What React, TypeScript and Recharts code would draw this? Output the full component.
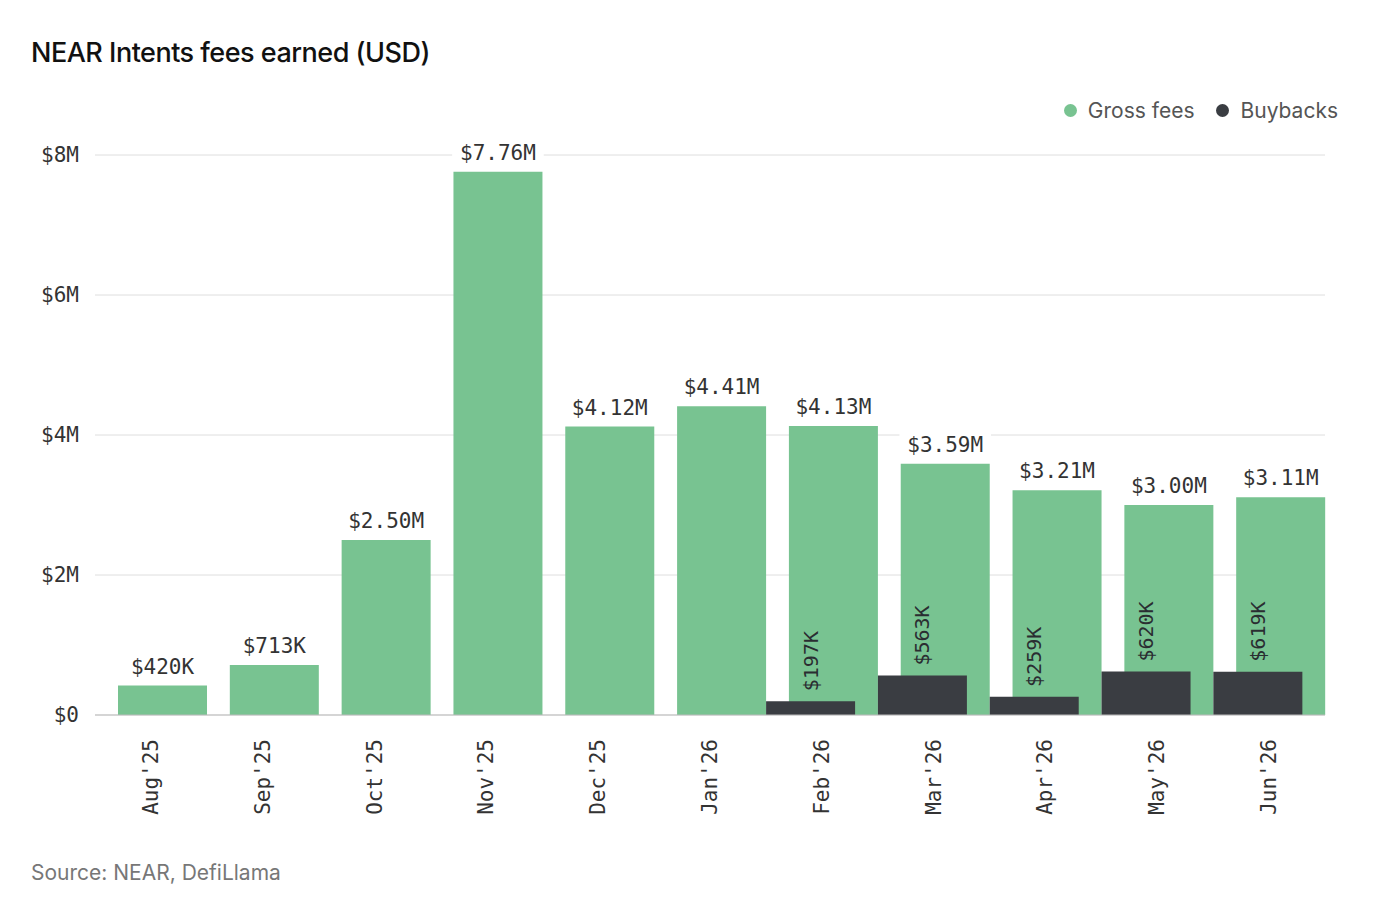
import { Bar, BarChart, CartesianGrid, LabelList, XAxis, YAxis } from "recharts";

const months = ["Aug'25", "Sep'25", "Oct'25", "Nov'25", "Dec'25", "Jan'26", "Feb'26", "Mar'26", "Apr'26", "May'26", "Jun'26"];
const grossFees = [420000, 713000, 2500000, 7760000, 4120000, 4410000, 4130000, 3590000, 3210000, 3000000, 3110000];
const buybacks = [0, 0, 0, 0, 0, 0, 197000, 563000, 259000, 620000, 619000];
const yTicks = [0, 2000000, 4000000, 6000000, 8000000];

const GREEN = "#78c391";
const DARK = "#3a3d42";
const MONO = "'DejaVu Sans Mono', 'Liberation Mono', monospace";
const SANS = "Inter, 'Noto Sans', sans-serif";

const data = months.map((m, i) => ({ month: m, gross: grossFees[i], buyback: buybacks[i] }));

function fmt(v: number) {
  if (v >= 1000000) return `$${(v / 1000000).toFixed(2)}M`;
  return `$${Math.round(v / 1000)}K`;
}

function GrossLabel(props: any) {
  const { x, y, width, value } = props;
  const cx = x + width / 2;
  const text = fmt(value);
  const w = text.length * 12.6 + 16;
  return (
    <g>
      <rect x={cx - w / 2} y={y - 34} width={w} height={26} fill="#fff" />
      <text x={cx} y={y - 12} textAnchor="middle" fontFamily={MONO} fontSize={21} fill="#333">
        {text}
      </text>
    </g>
  );
}

function BuybackLabel(props: any) {
  const { x, y, width, value } = props;
  if (!value) return null;
  const cx = x + width / 2 + 7;
  const ty = y - 10;
  return (
    <text x={cx} y={ty} transform={`rotate(-90 ${cx} ${ty})`} textAnchor="start" fontFamily={MONO} fontSize={20} fill="#2a2d31">
      {fmt(value)}
    </text>
  );
}

function MonthTick(props: any) {
  const { x, y, payload } = props;
  const tx = x + 7;
  const ty = y + 16;
  return (
    <text x={tx} y={ty} transform={`rotate(-90 ${tx} ${ty})`} textAnchor="end" fontFamily={MONO} fontSize={21} fill="#333">
      {payload.value}
    </text>
  );
}

export default function App() {
  return (
    <div style={{ position: "relative", width: 1358, height: 884, background: "#fff", fontFamily: SANS }}>
      <div style={{ position: "absolute", left: 23, top: 28, fontSize: 27, fontWeight: 500, color: "#111", letterSpacing: -0.5 }}>
        NEAR Intents fees earned (USD)
      </div>
      <div style={{ position: "absolute", right: 28, top: 90, display: "flex", gap: 22, fontSize: 21, color: "#555", alignItems: "center" }}>
        <span style={{ display: "flex", alignItems: "center", gap: 11 }}>
          <span style={{ width: 13, height: 13, borderRadius: 7, background: GREEN, display: "inline-block" }} />
          Gross fees
        </span>
        <span style={{ display: "flex", alignItems: "center", gap: 11 }}>
          <span style={{ width: 13, height: 13, borderRadius: 7, background: DARK, display: "inline-block" }} />
          Buybacks
        </span>
      </div>
      <BarChart width={1358} height={900} data={data} margin={{ top: 147, right: 41, left: 0, bottom: 0 }} barGap="-100%" barCategoryGap={23}>
        <CartesianGrid vertical={false} stroke="#dedede" />
        <YAxis
          width={87}
          domain={[0, 8000000]}
          ticks={yTicks}
          tickFormatter={(v) => (v === 0 ? "$0" : `$${v / 1000000}M`)}
          axisLine={false}
          tickLine={false}
          tickMargin={10}
          tick={{ fontFamily: MONO, fontSize: 21, fill: "#333" }}
        />
        <XAxis dataKey="month" height={193} interval={0} tick={<MonthTick />} tickLine={false} axisLine={{ stroke: "#bbb" }} />
        <Bar dataKey="gross" fill={GREEN} isAnimationActive={false}>
          <LabelList dataKey="gross" content={<GrossLabel />} />
        </Bar>
        <Bar dataKey="buyback" fill={DARK} isAnimationActive={false}>
          <LabelList dataKey="buyback" content={<BuybackLabel />} />
        </Bar>
      </BarChart>
      <div style={{ position: "absolute", left: 23, top: 852, fontSize: 21, color: "#777" }}>Source: NEAR, DefiLlama</div>
    </div>
  );
}
